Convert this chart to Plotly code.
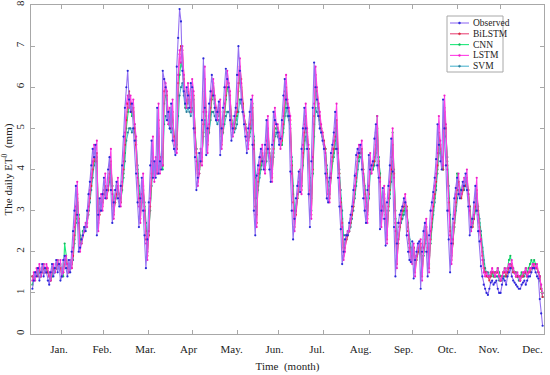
import plotly.graph_objects as go

# ---------------- data (daily ET0, mm) ----------------
observed = [
1.1,1.3,1.5,1.4,1.6,1.3,1.5,1.7,1.4,1.6,
1.5,1.3,1.2,1.5,1.7,1.4,1.6,1.8,1.5,1.7,
1.3,1.4,1.8,1.9,1.6,1.4,1.8,1.5,2.0,2.5,
3.0,3.6,2.9,2.0,2.1,2.3,2.4,2.6,2.5,3.0,
3.4,3.7,4.1,4.5,4.3,4.6,2.4,2.9,3.3,3.0,
3.4,3.8,3.3,3.5,4.0,4.3,3.5,2.7,3.2,3.5,
3.7,3.3,3.1,3.6,4.1,4.8,5.5,6.0,6.4,5.7,
5.4,5.6,5.0,4.7,3.9,3.2,2.6,3.3,3.8,3.0,
2.4,1.6,2.3,3.2,4.1,4.7,3.8,4.2,3.8,5.5,
3.9,4.2,4.0,6.4,6.2,6.0,5.2,5.4,5.0,5.6,
4.7,4.5,4.35,6.5,7.2,7.9,7.6,6.4,5.9,5.6,
6.0,5.8,5.5,6.1,6.0,5.0,4.3,3.5,3.8,4.4,
4.2,5.2,6.7,5.5,4.35,5.0,5.6,5.9,6.3,5.8,
5.5,5.2,5.4,5.65,4.35,5.0,5.5,6.0,6.45,6.2,
6.0,5.2,4.7,5.0,5.3,5.5,6.3,7.0,6.4,5.7,
5.4,5.1,4.8,4.4,5.0,5.4,5.7,4.6,3.0,2.4,
3.85,4.1,4.3,4.5,4.2,4.0,4.6,5.2,4.5,4.0,
3.7,4.6,5.4,5.2,5.1,4.9,4.6,4.75,5.2,5.8,
6.2,5.7,5.5,5.3,3.95,3.0,2.3,2.8,3.3,3.6,
3.95,3.45,4.5,5.0,5.5,5.0,4.5,3.4,2.6,4.2,
5.5,6.6,6.0,5.7,5.3,5.0,4.9,4.7,4.5,3.9,
3.3,3.2,3.8,4.4,4.6,4.9,5.4,4.5,3.8,3.1,
2.55,1.7,2.0,2.3,2.4,2.4,2.7,2.9,3.1,3.5,
3.85,4.35,4.5,4.4,4.6,4.0,3.3,3.0,2.7,3.5,
4.35,4.0,4.1,4.2,4.75,5.1,4.1,3.8,2.55,3.0,
3.55,2.8,2.15,3.2,3.6,4.1,4.75,3.95,2.6,1.4,
2.2,2.7,2.9,3.0,3.1,3.3,3.2,2.4,2.0,1.8,
1.75,2.25,1.35,1.8,2.0,2.2,2.25,1.1,2.0,2.5,
2.7,2.0,1.4,2.4,3.0,3.2,3.45,3.8,4.25,5.1,
4.6,4.2,4.0,5.7,5.0,4.1,3.0,2.3,1.5,2.2,
2.8,3.3,3.55,3.8,3.4,3.3,3.5,3.7,3.6,3.9,
3.5,3.1,2.4,2.6,2.8,3.2,3.6,3.0,2.5,2.25,
1.65,1.4,1.2,1.1,1.0,0.95,1.1,1.25,1.3,1.2,
1.25,1.3,1.1,1.0,1.0,1.2,1.35,1.3,1.2,1.4,
1.5,1.6,1.4,1.3,1.25,1.2,1.15,1.1,1.1,1.2,
1.25,1.3,1.2,1.3,1.4,1.4,1.5,1.6,1.6,1.5,
1.4,1.35,0.85,0.5,0.2]

bilstm = [
1.4,1.3,1.4,1.5,1.4,1.6,1.4,1.5,1.6,1.5,
1.6,1.5,1.4,1.3,1.5,1.6,1.5,1.6,1.7,1.6,
1.6,1.4,1.5,1.7,1.8,1.6,1.5,1.7,1.6,1.9,
2.4,2.9,3.4,2.8,2.2,2.2,2.4,2.5,2.6,2.7,
3.0,3.3,3.6,4.0,4.3,4.2,4.4,2.7,2.9,3.2,
3.1,3.4,3.6,3.3,3.5,3.9,4.2,3.5,2.9,3.2,
3.4,3.6,3.3,3.2,3.6,4.0,4.6,5.2,5.6,5.9,
5.6,5.4,5.5,5.0,4.6,3.9,3.3,2.8,3.3,3.6,
3.0,2.3,1.9,2.4,3.1,3.9,4.4,3.8,4.1,3.9,
5.2,4.0,4.2,4.1,5.9,6.0,5.8,5.2,5.3,5.0,
5.4,4.8,4.5,4.5,6.1,6.8,7.0,6.9,6.2,5.8,
5.6,5.9,5.7,5.5,5.9,5.8,5.0,4.4,3.7,3.9,
4.3,4.2,5.1,6.2,5.3,4.6,5.0,5.5,5.8,6.1,
5.7,5.5,5.3,5.4,5.5,4.6,5.0,5.4,5.8,6.2,
6.0,5.8,5.2,4.9,5.0,5.3,5.4,6.1,6.5,6.2,
5.6,5.3,5.1,4.8,4.6,5.0,5.3,5.5,4.6,3.1,
2.7,3.7,4.0,4.2,4.4,4.2,4.0,4.5,5.0,4.5,
4.1,3.8,4.5,5.2,5.1,5.0,4.8,4.6,4.7,5.1,
5.7,6.0,5.6,5.4,5.2,4.1,3.2,2.6,2.9,3.3,
3.6,3.9,3.5,4.4,4.9,5.3,4.9,4.5,3.5,2.9,
4.0,5.3,6.3,5.9,5.6,5.3,5.0,4.9,4.7,4.5,
3.9,3.4,3.3,3.8,4.3,4.5,4.8,5.2,4.5,3.9,
3.2,2.7,1.9,2.1,2.3,2.4,2.5,2.7,2.9,3.1,
3.5,3.8,4.3,4.4,4.4,4.5,4.0,3.4,3.1,2.8,
3.4,4.2,4.0,4.1,4.2,4.6,5.0,4.2,3.8,2.8,
3.0,3.4,2.9,2.3,3.1,3.5,4.0,4.6,3.9,2.7,
1.7,2.2,2.6,2.8,3.0,3.1,3.2,3.1,2.5,2.1,
1.9,1.8,2.1,1.5,1.8,2.0,2.1,2.2,1.4,2.0,
2.4,2.6,2.1,1.6,2.3,2.8,3.1,3.4,3.7,4.1,
4.9,4.6,4.2,4.0,5.4,5.0,4.1,3.2,2.5,1.8,
2.2,2.7,3.2,3.5,3.7,3.4,3.3,3.5,3.6,3.6,
3.8,3.5,3.1,2.6,2.6,2.8,3.1,3.5,3.0,2.6,
2.3,1.9,1.6,1.5,1.4,1.4,1.3,1.4,1.5,1.5,
1.4,1.5,1.5,1.4,1.3,1.4,1.5,1.5,1.4,1.5,
1.6,1.6,1.7,1.5,1.5,1.4,1.4,1.4,1.3,1.4,
1.4,1.5,1.5,1.4,1.5,1.5,1.6,1.6,1.7,1.6,
1.6,1.5,1.4,1.1,0.9]

cnn = [
1.2,1.4,1.4,1.5,1.6,1.5,1.4,1.6,1.7,1.5,
1.6,1.5,1.4,1.3,1.4,1.6,1.5,1.6,1.8,1.7,
1.7,1.5,1.4,2.2,1.9,1.7,1.5,1.7,1.7,2.0,
2.3,2.8,3.3,2.9,2.3,2.2,2.5,2.6,2.6,2.8,
3.0,3.4,3.7,4.0,4.2,4.3,4.3,2.9,3.0,3.2,
3.2,3.4,3.5,3.4,3.5,3.8,4.1,3.6,3.0,3.2,
3.4,3.5,3.4,3.2,3.5,3.9,4.4,5.0,5.4,5.6,
5.5,5.3,5.4,5.1,4.7,4.0,3.4,3.0,3.2,3.5,
3.1,2.5,2.0,2.4,3.0,3.8,4.3,3.9,4.0,4.1,
5.0,4.1,4.1,4.0,5.6,5.8,5.7,5.3,5.2,5.1,
5.2,4.8,4.6,4.5,5.8,6.3,6.6,6.5,6.0,5.6,
5.5,5.7,5.6,5.4,5.8,5.7,5.0,4.5,3.9,3.9,
4.2,4.3,4.9,5.9,5.2,4.7,4.9,5.4,5.7,5.9,
5.6,5.4,5.3,5.3,5.4,4.7,4.9,5.3,5.7,6.0,
5.9,5.7,5.3,5.0,5.0,5.2,5.3,5.9,6.3,6.0,
5.6,5.3,5.1,4.9,4.7,4.9,5.2,5.6,4.7,3.3,
2.9,3.6,3.9,4.1,4.3,4.2,4.1,4.4,4.9,4.5,
4.2,3.9,4.4,5.0,5.0,4.9,4.8,4.6,4.6,5.0,
5.5,5.8,5.5,5.3,5.1,4.2,3.4,2.8,3.0,3.3,
3.6,3.8,3.6,4.3,4.7,5.1,4.8,4.5,3.6,3.0,
3.9,5.1,6.0,5.8,5.5,5.2,5.0,4.8,4.6,4.5,
4.0,3.5,3.4,3.8,4.2,4.4,4.7,5.0,4.5,3.9,
3.3,2.8,2.1,2.2,2.3,2.4,2.5,2.7,2.9,3.1,
3.4,3.7,4.2,4.3,4.4,4.4,4.0,3.5,3.2,2.9,
3.3,4.1,4.0,4.0,4.2,4.5,5.3,4.3,3.9,2.9,
3.0,3.3,2.9,2.4,3.0,3.4,3.9,4.9,4.0,2.8,
1.9,2.2,2.6,2.8,2.9,3.0,3.1,3.1,2.6,2.2,
2.0,1.9,2.1,1.6,1.8,2.0,2.1,2.1,1.5,1.9,
2.3,2.6,2.2,1.7,2.2,2.7,3.0,3.3,3.6,4.0,
4.7,4.5,4.2,4.0,5.5,5.0,4.2,3.3,2.6,1.9,
2.2,2.6,3.1,3.9,3.7,3.5,3.4,3.5,3.6,3.6,
3.7,3.5,3.1,2.7,2.6,2.8,3.0,3.4,3.0,2.7,
2.4,2.0,1.7,1.5,1.5,1.4,1.4,1.5,1.5,1.4,
1.5,1.5,1.6,1.5,1.4,1.4,1.5,1.6,1.5,1.6,
1.8,1.9,1.7,1.6,1.5,1.5,1.4,1.4,1.4,1.5,
1.4,1.5,1.6,1.5,1.6,1.7,1.8,1.7,1.8,1.7,
1.6,1.5,1.4,1.1,1.0]

lstm = [
1.3,1.5,1.3,1.6,1.5,1.7,1.4,1.6,1.7,1.5,
1.7,1.6,1.4,1.3,1.6,1.7,1.5,1.7,1.8,1.6,
1.8,1.4,1.5,1.8,1.9,1.7,1.5,1.8,1.6,2.1,
2.6,3.1,3.7,2.7,2.0,2.2,2.4,2.5,2.7,2.6,
3.1,3.5,3.8,4.2,4.6,4.4,4.7,2.5,3.0,3.4,
3.0,3.5,3.9,3.3,3.6,4.1,4.5,3.4,2.8,3.3,
3.6,3.8,3.3,3.1,3.7,4.2,4.9,5.6,5.8,5.5,
5.8,5.5,5.7,5.1,4.8,3.8,3.1,2.7,3.4,3.9,
3.0,2.2,1.8,2.5,3.3,4.2,4.8,3.7,4.3,3.9,
5.6,3.9,4.3,4.1,6.2,6.1,5.9,5.1,5.5,5.0,
5.7,4.7,4.5,4.4,6.3,6.9,6.6,7.0,6.3,5.7,
5.5,6.1,5.8,5.4,6.2,5.9,4.9,4.2,3.6,3.9,
4.5,4.1,5.4,6.5,5.4,4.4,5.1,5.7,5.9,6.2,
5.8,5.4,5.2,5.5,5.7,4.5,5.1,5.6,6.0,6.4,
6.1,5.9,5.1,4.8,5.1,5.4,5.6,6.3,6.7,6.1,
5.5,5.3,5.0,4.7,4.5,5.1,5.5,5.8,4.5,2.9,
2.6,3.9,4.1,4.3,4.6,4.1,3.9,4.7,5.3,4.4,
4.0,3.7,4.7,5.5,5.1,5.1,4.9,4.5,4.8,5.3,
5.9,6.3,5.7,5.5,5.3,3.9,3.0,2.5,3.0,3.4,
3.7,4.0,3.4,4.6,5.1,5.6,5.0,4.6,3.4,2.8,
4.3,5.6,6.5,6.0,5.6,5.4,5.1,4.9,4.6,4.4,
3.8,3.3,3.2,3.9,4.5,4.7,5.0,5.6,4.4,3.8,
3.1,2.6,1.8,2.0,2.4,2.5,2.5,2.8,3.0,3.2,
3.6,3.9,4.4,4.6,4.5,4.7,3.9,3.3,3.0,2.7,
3.6,4.4,3.9,4.2,4.3,4.9,5.3,4.1,3.7,2.6,
3.1,3.6,2.8,2.2,3.3,3.7,4.3,5.0,3.8,2.5,
1.6,2.3,2.7,2.9,3.1,3.2,3.4,3.0,2.4,2.0,
1.8,1.7,2.2,1.4,1.9,2.1,2.2,2.3,1.3,2.1,
2.6,2.8,2.0,1.5,2.5,3.0,3.3,3.6,3.9,4.4,
5.3,4.7,4.3,4.1,5.8,5.1,4.0,3.0,2.4,1.7,
2.3,2.9,3.4,3.7,3.9,3.4,3.4,3.6,3.8,3.7,
4.0,3.4,3.0,2.5,2.7,2.9,3.3,3.8,2.9,2.5,
2.3,1.8,1.5,1.4,1.5,1.4,1.4,1.5,1.6,1.5,
1.4,1.5,1.6,1.4,1.3,1.4,1.5,1.6,1.5,1.6,
1.7,1.6,1.8,1.6,1.5,1.4,1.5,1.4,1.3,1.4,
1.5,1.5,1.6,1.4,1.5,1.6,1.6,1.7,1.7,1.6,
1.7,1.5,1.4,1.2,1.0]

svm = [
1.4,1.4,1.5,1.5,1.5,1.5,1.5,1.6,1.6,1.5,
1.6,1.5,1.5,1.4,1.5,1.6,1.5,1.6,1.7,1.6,
1.6,1.5,1.5,1.7,1.8,1.7,1.6,1.6,1.7,1.8,
2.2,2.7,3.2,2.9,2.4,2.3,2.4,2.5,2.6,2.7,
2.9,3.2,3.5,3.8,4.1,4.2,4.2,3.0,3.0,3.2,
3.2,3.4,3.5,3.4,3.5,3.7,4.0,3.6,3.1,3.2,
3.4,3.5,3.4,3.3,3.5,3.8,4.2,4.7,4.9,5.0,
5.0,4.9,5.0,4.9,4.6,4.1,3.6,3.2,3.3,3.5,
3.2,2.7,2.3,2.5,3.0,3.6,4.1,3.9,4.0,4.1,
4.8,4.3,4.2,4.1,5.1,5.3,5.3,5.1,5.0,4.9,
5.0,4.8,4.6,4.6,5.3,5.8,6.0,6.1,5.8,5.5,
5.4,5.5,5.4,5.3,5.5,5.4,4.9,4.5,4.0,4.0,
4.3,4.4,4.8,5.2,5.0,4.8,4.9,5.2,5.4,5.4,
5.3,5.2,5.1,5.2,5.2,4.8,4.9,5.1,5.3,5.4,
5.4,5.3,5.1,4.9,4.9,5.0,5.1,5.4,5.7,5.6,
5.4,5.2,5.0,4.8,4.7,4.8,5.0,5.2,4.8,3.8,
3.3,3.5,3.8,4.0,4.2,4.1,4.0,4.2,4.6,4.4,
4.2,4.0,4.3,4.8,4.9,4.8,4.7,4.6,4.6,4.9,
5.3,5.5,5.3,5.2,5.0,4.3,3.6,3.0,3.1,3.3,
3.5,3.7,3.6,4.1,4.5,4.8,4.7,4.5,3.8,3.3,
3.9,4.8,5.5,5.4,5.3,5.1,4.9,4.8,4.6,4.5,
4.1,3.7,3.6,3.9,4.2,4.3,4.5,4.8,4.4,4.0,
3.5,3.0,2.4,2.4,2.4,2.5,2.5,2.6,2.8,3.0,
3.3,3.6,4.0,4.2,4.3,4.3,4.0,3.6,3.3,3.0,
3.3,3.9,4.0,4.0,4.1,4.4,4.7,4.3,3.9,3.1,
3.1,3.3,3.0,2.6,3.0,3.3,3.7,4.2,3.9,3.0,
2.2,2.3,2.6,2.7,2.8,2.9,3.0,3.0,2.7,2.3,
2.1,2.0,2.1,1.8,1.9,2.0,2.1,2.1,1.7,1.9,
2.2,2.4,2.2,1.9,2.2,2.6,2.9,3.2,3.5,3.9,
4.4,4.4,4.2,4.0,4.9,4.8,4.3,3.6,2.9,2.3,
2.3,2.6,3.0,3.3,3.5,3.4,3.4,3.5,3.5,3.6,
3.6,3.4,3.1,2.8,2.7,2.8,3.0,3.3,3.1,2.8,
2.5,2.1,1.8,1.6,1.5,1.5,1.4,1.4,1.5,1.4,
1.4,1.4,1.4,1.3,1.3,1.3,1.4,1.4,1.4,1.5,
1.6,1.7,1.6,1.5,1.5,1.4,1.4,1.3,1.3,1.4,
1.4,1.4,1.5,1.4,1.5,1.6,1.6,1.7,1.7,1.6,
1.6,1.5,1.3,1.1,0.9]

days = list(range(1, len(observed) + 1))

month_labels = ["Jan.", "Feb.", "Mar.", "Apr", "May.", "Jun.",
                "Jul.", "Aug.", "Sep.", "Otc.", "Nov.", "Dec."]
month_label_pos = [20.0, 50.7, 81.7, 112.4, 143.1, 173.8, 204.0, 235.1, 265.8, 296.9, 326.8, 357.8]
month_tick_pos = [21.4, 51.4, 83.5, 114.9, 147.0, 176.9, 209.0, 241.2, 272.5, 304.6, 335.3, 365.3]

series_names = ["Observed", "BiLSTM", "CNN", "LSTM", "SVM"]
series_values = [observed, bilstm, cnn, lstm, svm]
line_colors = ["#9470F2", "#E8487A", "#1EE87A", "#FF40E6", "#4FB4CF"]
marker_colors = ["#2A2AD8", "#D8283A", "#12B85A", "#F020C8", "#2A7F9A"]

# ---------------- figure ----------------
W, H = 550, 375
ML, MR, MT, MB = 31, 6, 5, 41
PW, PH = W - ML - MR, H - MT - MB
AXC = "#A8A8A8"
FONT = "Liberation Serif"

fig = go.Figure()
draw_order = [4, 2, 1, 3, 0]
for i in draw_order:
    fig.add_trace(go.Scatter(
        x=days, y=series_values[i], name=series_names[i],
        mode="lines+markers",
        line=dict(color=line_colors[i], width=1.1),
        marker=dict(color=marker_colors[i], size=2.2),
        showlegend=False,
    ))

fig.update_xaxes(
    range=[0, 366], automargin=False,
    tickmode="array", tickvals=month_label_pos, ticktext=month_labels,
    ticks="inside", ticklen=0, tickcolor=AXC, ticklabelstandoff=5,
    minor=dict(tickmode="array", tickvals=month_tick_pos, ticks="inside",
               ticklen=4, tickcolor=AXC, showgrid=False),
    showline=True, linecolor=AXC, linewidth=1, mirror="ticks",
    showgrid=False, zeroline=False,
    tickfont=dict(family=FONT, size=11, color="#222"),
    title=dict(text="Time  (month)", font=dict(family=FONT, size=11, color="#222"),
               standoff=8),
)
fig.update_yaxes(
    range=[0, 8], dtick=1, tickangle=-90, automargin=False,
    ticks="inside", ticklen=4, tickcolor=AXC, ticklabelstandoff=2,
    showline=True, linecolor=AXC, linewidth=1, mirror="ticks",
    showgrid=False, zeroline=False,
    tickfont=dict(family=FONT, size=11, color="#222"),
    title=dict(text="The daily ET<sup>0</sup>  (mm)",
               font=dict(family=FONT, size=11, color="#222"), standoff=4),
)

# compact legend box drawn in paper coordinates
def px_x(px):
    return (px - ML) / PW

def px_y(py):
    return (H - MB - py) / PH

shapes = [dict(type="rect", xref="paper", yref="paper",
               x0=px_x(447), x1=px_x(503), y0=px_y(72), y1=px_y(16),
               line=dict(color=AXC, width=1), fillcolor="white", layer="above")]
annotations = []
for k, name in enumerate(series_names):
    yy = 23 + 10.8 * k
    shapes.append(dict(type="line", xref="paper", yref="paper",
                       x0=px_x(450), x1=px_x(469), y0=px_y(yy), y1=px_y(yy),
                       line=dict(color=line_colors[k], width=1.1), layer="above"))
    shapes.append(dict(type="circle", xref="paper", yref="paper",
                       x0=px_x(458.5), x1=px_x(460.5), y0=px_y(yy + 1), y1=px_y(yy - 1),
                       line=dict(color=marker_colors[k], width=0.5),
                       fillcolor=marker_colors[k], layer="above"))
    annotations.append(dict(xref="paper", yref="paper", x=px_x(470.5), y=px_y(yy),
                            text=name, showarrow=False, xanchor="left", yanchor="middle",
                            font=dict(family=FONT, size=9.5, color="#222")))

fig.update_layout(
    width=W, height=H,
    margin=dict(l=ML, r=MR, t=MT, b=MB, autoexpand=False),
    paper_bgcolor="white", plot_bgcolor="white",
    shapes=shapes, annotations=annotations,
    showlegend=False,
)

fig.write_html("out.html", config={"displayModeBar": False},
               post_script="document.body.style.margin='0';document.body.style.padding='0';")
